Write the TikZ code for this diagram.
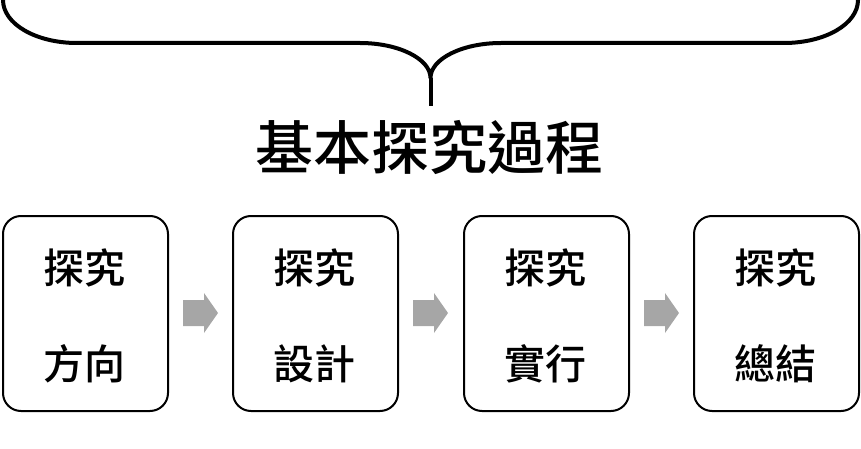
\documentclass[tikz,border=0pt]{standalone}
\usepackage{fontspec}
\setmainfont{Noto Sans CJK TC Medium}
\begin{document}
\begin{tikzpicture}[x=1pt,y=-1pt,
  stepbox/.style={draw=black, line width=2pt, rounded corners=18pt, minimum width=165pt, minimum height=195pt, inner sep=0pt, anchor=north west},
  steptext/.style={font=\fontsize{41}{41}\selectfont, inner sep=0pt},
  blockarrow/.style={fill=black!35, draw=none},
  bracestyle/.style={line width=4pt, line join=round}
]
\useasboundingbox (0,0) rectangle (861,449);
% brace
\coordinate (tip) at (430.5,78);
\coordinate (stem) at (430.5,106);
\draw[bracestyle] (3,-6) -- (3,0) .. controls (3,24) and (36,43) .. (77,43) -- (360,43)
   .. controls (399,43) and (430.5,59) .. (tip)
   .. controls (430.5,59) and (462,43) .. (501,43) -- (784,43)
   .. controls (825,43) and (858,24) .. (858,0) -- (858,-6);
\draw[line width=4pt] (tip) -- (stem);
% title
\node[font=\fontsize{58}{58}\selectfont, inner sep=0pt] (title) at (429.5,148) {基本探究過程};
% boxes
\node[stepbox] (b1) at (2,215) {};
\node[stepbox] (b2) at (232,215) {};
\node[stepbox] (b3) at (463,215) {};
\node[stepbox] (b4) at (693,215) {};
\foreach \b/\t in {b1/方向, b2/設計, b3/實行, b4/總結}{
  \node[steptext] (\b a) at ([xshift=-1pt,yshift=46pt]\b.center) {探究};
  \node[steptext] (\b b) at ([xshift=-1pt,yshift=-50pt]\b.center) {\t};
}
% block arrows
\foreach \s in {183,413,644}{
  \fill[blockarrow] (\s,300) -- (\s+21,300) -- (\s+21,293) -- (\s+35,313) -- (\s+21,333) -- (\s+21,326) -- (\s,326) -- cycle;
}
\end{tikzpicture}
\end{document}
